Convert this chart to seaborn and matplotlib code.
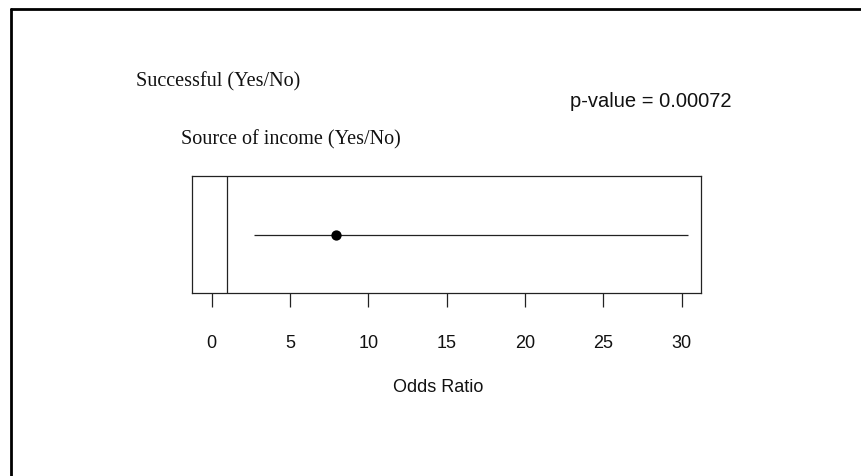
import matplotlib
matplotlib.use("Agg")
import matplotlib.pyplot as plt
from matplotlib.lines import Line2D
import seaborn as sns
import pandas as pd

# Odds ratio estimate with its confidence interval
predictor = ["Source of income (Yes/No)"]
odds_ratio = [7.9]
ci_lower = [2.7]
ci_upper = [30.4]
outcome_label = "Successful (Yes/No)"
p_value = "0.00072"
x_ticks = [0, 5, 10, 15, 20, 25, 30]
reference_line = 1

df = pd.DataFrame({"predictor": predictor, "or": odds_ratio,
                   "lo": ci_lower, "hi": ci_upper, "y": [0.0]})

sns.set_theme(style="white")
plt.rcParams["font.family"] = ["Liberation Sans", "DejaVu Sans"]

W, H = 861, 477
fig = plt.figure(figsize=(W / 100, H / 100), dpi=100)
fig.patch.set_facecolor("white")

def fx(px):
    return px / W

def fy(py):
    return 1 - py / H

ax_bottom, ax_top = 294.3, 176.7
ax = fig.add_axes([fx(192), fy(ax_bottom), fx(701) - fx(192), fy(ax_top) - fy(ax_bottom)])

line_col = "#222222"
text_col = "#111111"

# confidence interval and point estimate
ax.hlines(df["y"], df["lo"], df["hi"], color=line_col, linewidth=0.9, zorder=2)
sns.scatterplot(data=df, x="or", y="y", ax=ax, color="black", s=55,
                edgecolor="black", linewidth=0, zorder=3, legend=False)

# no-effect reference line
ax.axvline(reference_line, color=line_col, linewidth=0.9, zorder=1)

ax.set_xlim(-1.26, 31.23)
ax.set_ylim(-1, 1)
ax.set_yticks([])
ax.set_xticks(x_ticks)
ax.set_xticklabels([str(t) for t in x_ticks], fontsize=13, color=text_col)
ax.tick_params(axis="x", bottom=True, length=10, width=0.9, color=line_col,
               direction="out", pad=19)
ax.set_xlabel("Odds Ratio", fontsize=13, color=text_col)
ax.xaxis.label.set_va("center")
ax.xaxis.set_label_coords((438 - 192) / (701 - 192),
                          (ax_bottom - 388) / (ax_bottom - ax_top))
ax.set_ylabel("")
for side in ["left", "right", "top", "bottom"]:
    ax.spines[side].set_visible(True)
    ax.spines[side].set_color(line_col)
    ax.spines[side].set_linewidth(0.9)

# annotations
serif = ["Liberation Serif", "DejaVu Serif"]
fig.text(fx(136), fy(82), outcome_label, fontsize=14.5, family=serif,
         va="center", ha="left", color=text_col)
fig.text(fx(181), fy(140), predictor[0], fontsize=14.5, family=serif,
         va="center", ha="left", color=text_col)
fig.text(fx(570), fy(102), "p-value = " + p_value, fontsize=14.5,
         va="center", ha="left", color=text_col)

# outer frame edges
fig.add_artist(Line2D([fx(11), fx(11)], [fy(10), 0], transform=fig.transFigure,
                      color="black", linewidth=2))
fig.add_artist(Line2D([fx(11), 1], [fy(10), fy(10)], transform=fig.transFigure,
                      color="black", linewidth=2))

fig.savefig("out.png", dpi=100, facecolor="white")
